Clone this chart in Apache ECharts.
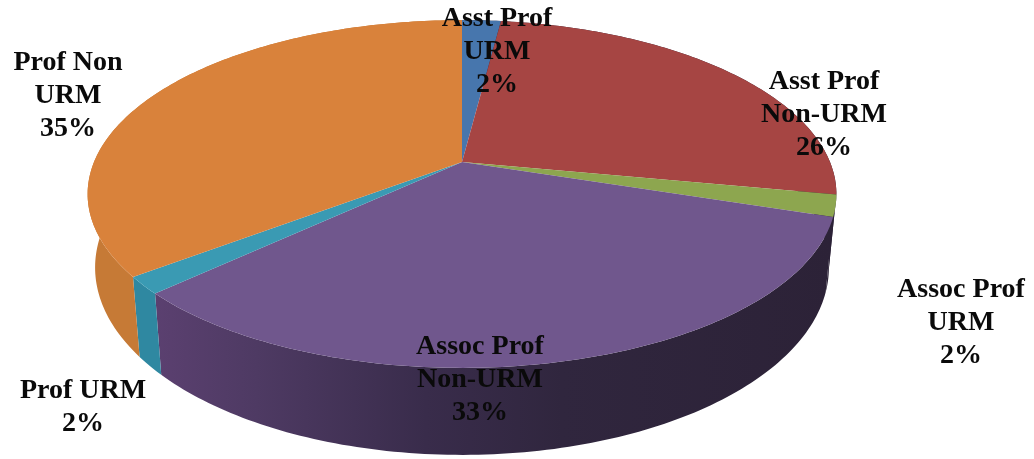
<!DOCTYPE html>
<html>
<head>
<meta charset="utf-8">
<title>Faculty by rank and URM status</title>
<style>
    html,body{margin:0;padding:0;background:#fff;}
    #pie3d{width:1034px;height:459px;}
</style>
</head>
<body>
<div id="pie3d"></div>
<script src="https://cdn.jsdelivr.net/npm/echarts@6/dist/echarts.min.js"></script>
<script>
    var categories = ['Asst Prof\nURM', 'Asst Prof\nNon-URM', 'Assoc Prof\nURM', 'Assoc Prof\nNon-URM', 'Prof URM', 'Prof Non\nURM'];
    // the printed labels are these rounded
    var values = [2, 26, 2, 33, 1.6, 35.4];

    // layout of the drawing, not data
    var topColors = ['#4776ad', '#a64543', '#8da64f', '#70578d', '#3a9ab3', '#d9823b'];
    var sideColors = ['#2c2237', '#2c2237', '#2c2237', null, '#2f88a1', '#c67a36'];
    var labelPos = [[497, 52], [824, 115], [961, 323], [480, 380], [83, 407], [68, 96]];
    var centerX = 462, centerY = 162;
    var radiusX = 368, radiusY = 168, tilt = 0.184, depth = 71, shrink = 0.98;

    var total = 0, starts = [];
    values.forEach(function (v) {
        starts.push(total);
        total += v;
    });

    // share of the pie (0..total) -> point on the top or bottom face
    function project(share, lower) {
        var a = share / total * Math.PI * 2;
        var u = Math.sin(a), v = -Math.cos(a);
        var d = 1 - tilt * v;
        var s = lower ? shrink : 1;
        return [
            centerX + radiusX * u / d * s,
            centerY + (radiusY * v + (lower ? depth : 0)) / d
        ];
    }

    function arc(from, to, lower) {
        var pts = [];
        var n = Math.max(2, Math.ceil((to - from) * 3.6));
        for (var i = 0; i <= n; i++) {
            pts.push(project(from + (to - from) * i / n, lower));
        }
        return pts;
    }

    function renderSide(params, api) {
        var from = starts[params.dataIndex];
        var to = from + api.value(0);
        var pts = arc(from, to, false).concat(arc(from, to, true).reverse());
        var fill = sideColors[params.dataIndex];
        if (!fill) {
            // big front wall fades from left to right
            fill = {
                type: 'linear', x: 1, y: 0, x2: 0, y2: 0,
                colorStops: [
                    {offset: 0, color: '#2c2237'},
                    {offset: 0.4, color: '#30263e'},
                    {offset: 0.6, color: '#392c4b'},
                    {offset: 0.85, color: '#4e3a63'},
                    {offset: 1, color: '#5b4070'}
                ]
            };
        }
        return {type: 'polygon', shape: {points: pts}, style: {fill: fill}, silent: true};
    }

    function renderTop(params, api) {
        var from = starts[params.dataIndex];
        var to = from + api.value(0);
        var pts = [[centerX, centerY]].concat(arc(from, to, false));
        return {type: 'polygon', shape: {points: pts}, style: {fill: topColors[params.dataIndex]}, silent: true};
    }

    function renderLabel(params, api) {
        var i = params.dataIndex;
        return {
            type: 'text',
            silent: true,
            style: {
                text: categories[i] + '\n' + Math.round(api.value(0)) + '%',
                x: labelPos[i][0],
                y: labelPos[i][1],
                align: 'center',
                verticalAlign: 'middle',
                fontFamily: '"Liberation Serif", serif',
                fontWeight: 'bold',
                fontSize: 28,
                lineHeight: 33,
                fill: '#0a0a0a'
            }
        };
    }

    var chartData = values.map(function (v) { return [v]; });
    var myChart = echarts.init(document.getElementById('pie3d'));
    myChart.setOption({
        animation: false,
        series: [
            {type: 'custom', coordinateSystem: 'none', z: 1, data: chartData, renderItem: renderSide},
            {type: 'custom', coordinateSystem: 'none', z: 2, data: chartData, renderItem: renderTop},
            {type: 'custom', coordinateSystem: 'none', z: 3, data: chartData, renderItem: renderLabel}
        ]
    });
</script>
</body>
</html>
